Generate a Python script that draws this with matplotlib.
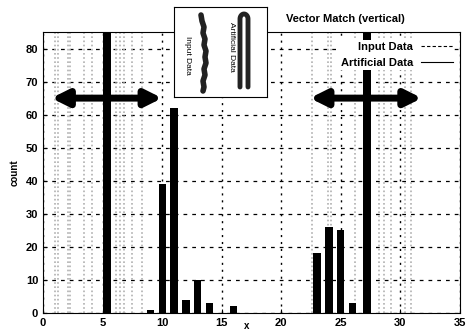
import numpy as np
import matplotlib.pyplot as plt

plt.rcParams['font.family'] = ['Liberation Sans', 'DejaVu Sans']

# histogram of input data (x, count)
input_x = [9, 10, 11, 12, 13, 14, 16, 23, 24, 25, 26]
input_count = [1, 39, 62, 4, 10, 3, 2, 18, 26, 25, 3]

# artificial data peaks (clipped at the top of the plot)
art_x = [5.35, 27.2]
art_count = [100, 100]

# faint stippled columns in the background
stipple_x = [1.0, 1.3, 2.1, 2.3, 3.4, 4.1, 6.1, 6.5, 6.8, 7.5, 8.3,
             22.6, 23.9, 24.2, 26.2, 28.2, 28.6, 29.2, 30.4, 30.9]

# double arrows: (x_start, x_end, y)
arrows = [(0.7, 10.0, 65), (22.4, 31.8, 65)]

# sketch in the inset box (pixel units of the box)
sketch_input_y = [8, 14, 20, 26, 32, 38, 44, 50, 56, 62, 68, 74, 80, 84]
sketch_input_x = [27, 28, 30, 29, 31, 30, 32, 31, 32, 30, 31, 29, 30, 29]

fig = plt.figure(figsize=(4.66, 3.34), dpi=100)
ax = fig.add_axes([43/466, 1-313/334, 417/466, 281/334])
ax.set_axisbelow(True)

for sx in stipple_x:
    ax.axvline(sx, color='#b0b0b0', lw=1.2, ls=(0, (1, 1.5)), zorder=1)

ax.bar(input_x, input_count, width=0.6, color='black', zorder=3)
ax.bar(art_x, art_count, width=0.7, color='black', zorder=3)

for x0, x1, y in arrows:
    ax.annotate('', xy=(x0, y), xytext=(x1, y),
                arrowprops=dict(arrowstyle='<|-|>', color='black', lw=5,
                                mutation_scale=24, shrinkA=0, shrinkB=0),
                zorder=4)

ax.set_xlim(0, 35)
ax.set_ylim(0, 85)
ax.set_xticks(range(0, 36, 5))
ax.set_yticks(range(0, 81, 10))
ax.yaxis.grid(True, color='black', lw=0.9, ls=(0, (3, 4)))
ax.xaxis.grid(True, color='black', lw=1.0, ls=(0, (1.5, 3.5)))
ax.tick_params(labelsize=8, direction='in', length=3)
for lab in ax.get_xticklabels() + ax.get_yticklabels():
    lab.set_fontweight('bold')
ax.set_ylabel('count', fontsize=7, fontweight='bold', labelpad=4)
fig.text(247/466, 1-326/334, 'x', fontsize=7, fontweight='bold',
         ha='center', va='center')

# legend
h1, = ax.plot([], [], color='black', lw=0.8, ls=(0, (3, 2)))
h2, = ax.plot([], [], color='black', lw=0.8)
leg = ax.legend([h1, h2], ['Input Data', 'Artificial Data'], loc='upper right',
                bbox_to_anchor=(1.0, 0.99), frameon=True, markerfirst=False,
                prop={'size': 8, 'weight': 'bold'}, handlelength=2.9,
                labelspacing=0.55, handletextpad=0.7, borderpad=0.15,
                fancybox=False)
leg.get_frame().set_facecolor('white')
leg.get_frame().set_edgecolor('none')
leg.get_frame().set_alpha(1)
leg.set_zorder(5)

fig.text(345/466, 1-19/334, 'Vector Match (vertical)', fontsize=8,
         fontweight='bold', ha='center', va='center')

# inset sketch
ins = fig.add_axes([174/466, 1-97/334, 93/466, 90/334])
ins.set_xlim(0, 93)
ins.set_ylim(90, 0)
ins.set_xticks([])
ins.set_yticks([])
ins.patch.set_facecolor('white')
ins.plot(sketch_input_x, sketch_input_y, color='#222222', lw=4,
         solid_capstyle='round')
t = np.linspace(np.pi, 0, 30)
arch_x = np.concatenate([[66], 70 + 4*np.cos(t), [74]])
arch_y = np.concatenate([[80], 12 - 5*np.sin(t), [80]])
ins.plot(arch_x, arch_y, color='#222222', lw=3.5, solid_capstyle='round')
ins.text(14, 48, 'Input Data', rotation=-90, fontsize=6, ha='center', va='center')
ins.text(57, 40, 'Artificial Data', rotation=-90, fontsize=6, ha='center', va='center')

fig.savefig('out.png', dpi=100)
